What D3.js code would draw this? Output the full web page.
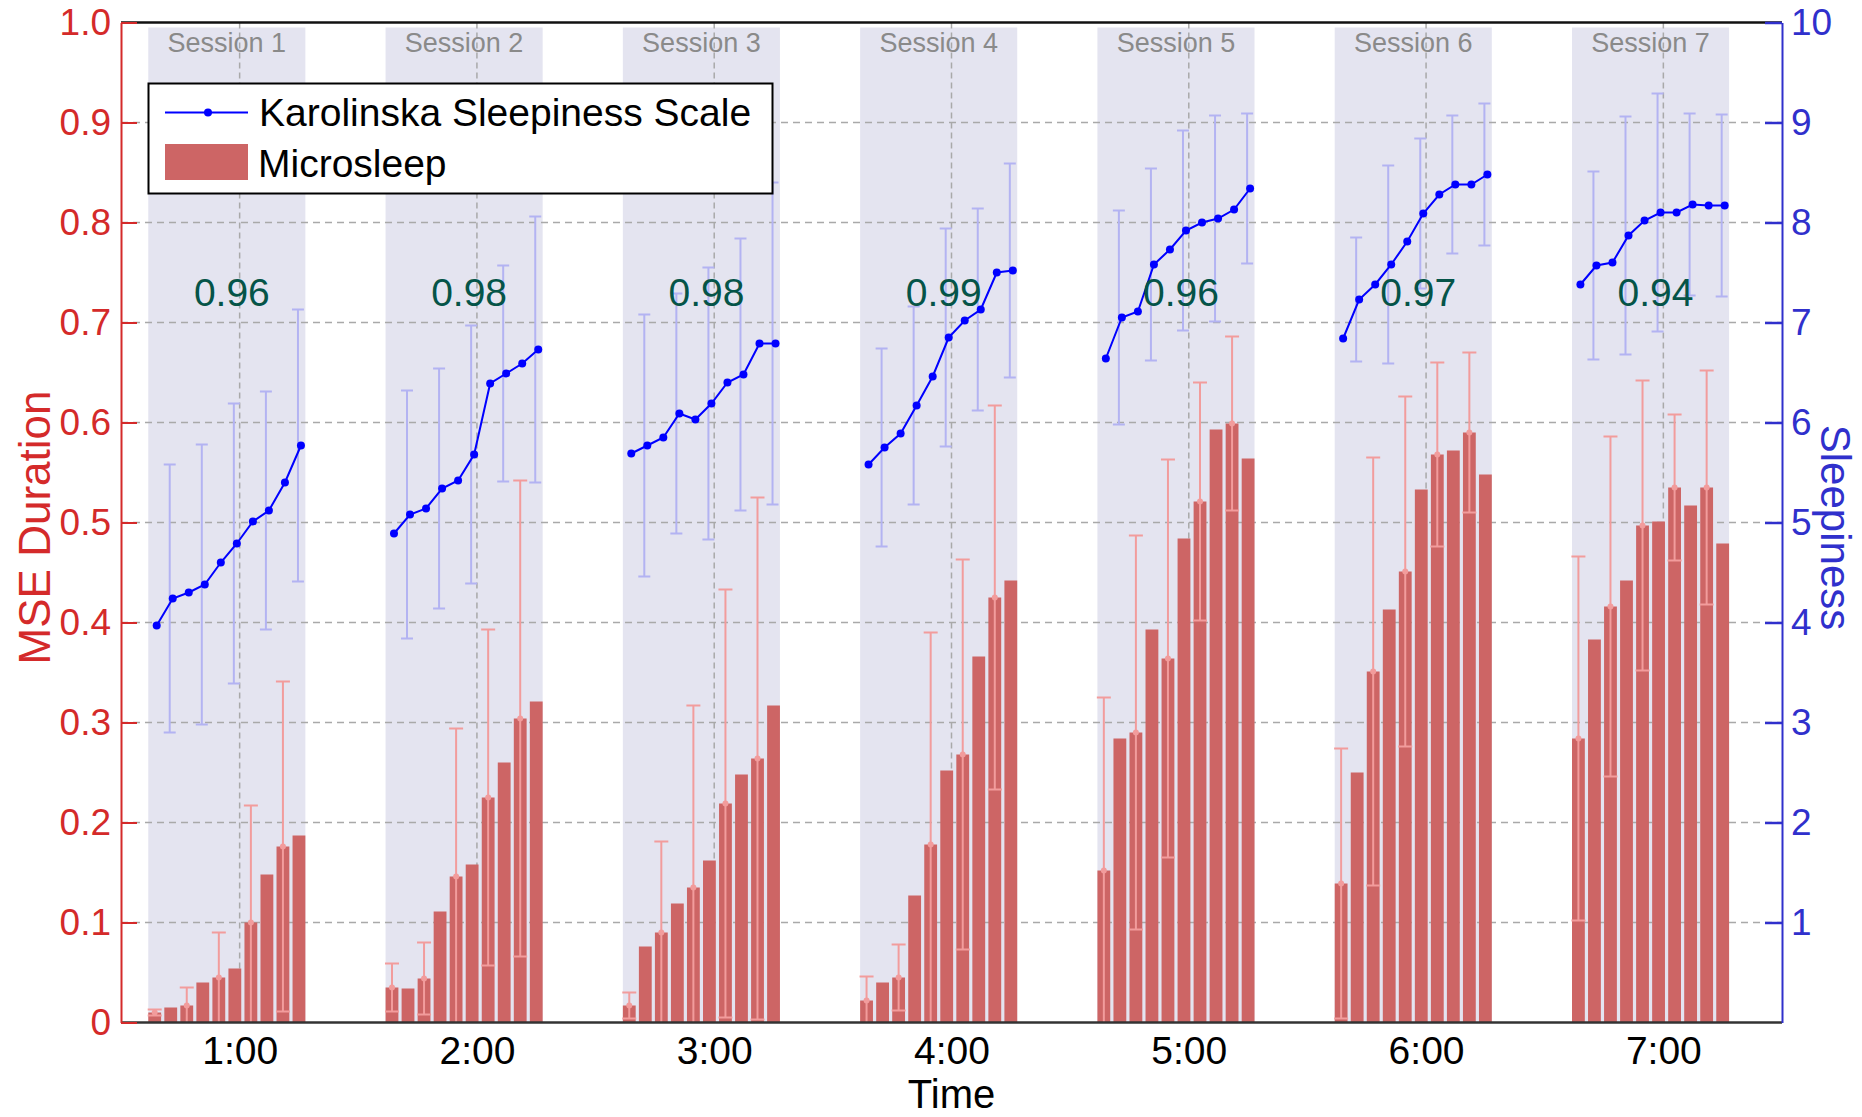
<!DOCTYPE html>
<html><head><meta charset="utf-8">
<script src="https://cdn.jsdelivr.net/npm/d3@7"></script>
<style>body{margin:0;background:#fff;overflow:hidden}</style>
</head><body><svg id="chart" width="1862" height="1117"></svg>
<script>
// ---------- data ----------
const hours = [1, 2, 3, 4, 5, 6, 7];
const hourLabels = ["1:00", "2:00", "3:00", "4:00", "5:00", "6:00", "7:00"];
const sessionLabels = ["Session 1", "Session 2", "Session 3", "Session 4", "Session 5", "Session 6", "Session 7"];
const correlations = ["0.96", "0.98", "0.98", "0.99", "0.96", "0.97", "0.94"];
const leftTicks = [0, 0.1, 0.2, 0.3, 0.4, 0.5, 0.6, 0.7, 0.8, 0.9, 1.0];
const leftTickLabels = ["0", "0.1", "0.2", "0.3", "0.4", "0.5", "0.6", "0.7", "0.8", "0.9", "1.0"];
const rightTicks = [1, 2, 3, 4, 5, 6, 7, 8, 9, 10];

// Microsleep (MSE duration) per session, 10 intervals each
const mseDuration = [
  [0.010, 0.015, 0.017, 0.040, 0.045, 0.054, 0.100, 0.148, 0.176, 0.187],
  [0.035, 0.034, 0.044, 0.111, 0.146, 0.158, 0.225, 0.260, 0.304, 0.321],
  [0.017, 0.076, 0.090, 0.119, 0.135, 0.162, 0.219, 0.248, 0.264, 0.317],
  [0.022, 0.040, 0.045, 0.127, 0.178, 0.252, 0.268, 0.366, 0.425, 0.442],
  [0.152, 0.284, 0.290, 0.393, 0.364, 0.484, 0.521, 0.593, 0.599, 0.564],
  [0.139, 0.250, 0.351, 0.413, 0.451, 0.533, 0.568, 0.572, 0.590, 0.548],
  [0.284, 0.383, 0.416, 0.442, 0.497, 0.501, 0.535, 0.517, 0.535, 0.479]
];
const mseError = [
  [0.003, null, 0.018, null, 0.045, null, 0.117, null, 0.165, null],
  [0.024, null, 0.036, null, 0.148, null, 0.168, null, 0.238, null],
  [0.013, null, 0.091, null, 0.182, null, 0.214, null, 0.261, null],
  [0.024, null, 0.033, null, 0.212, null, 0.195, null, 0.192, null],
  [0.173, null, 0.197, null, 0.199, null, 0.119, null, 0.087, null],
  [0.135, null, 0.214, null, 0.175, null, 0.092, null, 0.080, null],
  [0.182, null, 0.170, null, 0.145, null, 0.073, null, 0.117, null]
];
// Karolinska Sleepiness Scale per session
const kss = [
  [3.97, 4.24, 4.30, 4.38, 4.60, 4.79, 5.01, 5.12, 5.40, 5.77],
  [4.89, 5.08, 5.14, 5.34, 5.42, 5.68, 6.39, 6.49, 6.59, 6.73],
  [5.69, 5.77, 5.85, 6.09, 6.03, 6.19, 6.40, 6.48, 6.79, 6.79],
  [5.58, 5.75, 5.89, 6.17, 6.46, 6.85, 7.02, 7.13, 7.50, 7.52],
  [6.64, 7.05, 7.11, 7.58, 7.73, 7.92, 8.00, 8.04, 8.13, 8.34],
  [6.84, 7.23, 7.38, 7.58, 7.81, 8.09, 8.28, 8.38, 8.38, 8.48],
  [7.38, 7.57, 7.60, 7.87, 8.02, 8.10, 8.10, 8.18, 8.17, 8.17]
];
const kssError = [
  [null, 1.34, null, 1.40, null, 1.40, null, 1.19, null, 1.36],
  [null, 1.24, null, 1.20, null, 1.29, null, 1.08, null, 1.33],
  [null, 1.31, null, 1.20, null, 1.36, null, 1.36, null, 1.61],
  [null, 0.99, null, 0.99, null, 1.09, null, 1.01, null, 1.07],
  [null, 1.07, null, 0.96, null, 1.00, null, 1.03, null, 0.75],
  [null, 0.62, null, 0.99, null, 0.75, null, 0.69, null, 0.71],
  [null, 0.94, null, 1.19, null, 1.19, null, 0.91, null, 0.91]
];

// ---------- layout ----------
const svg = d3.select("#chart");
const L = 121, R = 1782, T = 22.5, B = 1022.5;
const x = d3.scaleLinear().domain([0.5, 7.5]).range([L, R]);
const yL = d3.scaleLinear().domain([0, 1]).range([B, T]);
const yR = d3.scaleLinear().domain([0, 10]).range([B, T]);
const bandLo = -0.385, bandHi = 0.277;
const inner = s => d3.scaleBand().domain(d3.range(10)).range([x(s + bandLo), x(s + bandHi)]).paddingInner(0.2).paddingOuter(0);

const FONT = "'Liberation Sans', Arial, Helvetica, sans-serif";
const RED = "#d42a2a", BLUE = "#3030cc";
const BAR = "#cd6565", REDERR = "#f29c9c", BLUEERR = "#b3b3f2", BANDC = "#e4e4f0";

svg.append("rect").attr("width", 1862).attr("height", 1117).attr("fill", "#fff");

const defs = svg.append("defs");
defs.append("clipPath").attr("id", "plotclip").append("rect")
  .attr("x", L).attr("y", T).attr("width", R - L).attr("height", B - T);

const plot = svg.append("g").attr("clip-path", "url(#plotclip)");

// session bands
plot.selectAll("rect.band").data(hours).join("rect")
  .attr("class", "band")
  .attr("x", s => x(s + bandLo)).attr("width", s => x(s + bandHi) - x(s + bandLo))
  .attr("y", T + 5).attr("height", B - T - 5)
  .attr("fill", BANDC);

// grid
plot.selectAll("line.hgrid").data(leftTicks.slice(1, -1)).join("line")
  .attr("x1", L).attr("x2", R).attr("y1", d => yL(d)).attr("y2", d => yL(d))
  .attr("stroke", "#a9a9a9").attr("stroke-width", 1.5).attr("stroke-dasharray", "7,5");
plot.selectAll("line.vgrid").data(hours).join("line")
  .attr("x1", d => x(d)).attr("x2", d => x(d)).attr("y1", T).attr("y2", B)
  .attr("stroke", "#a9a9a9").attr("stroke-width", 1.5).attr("stroke-dasharray", "6,4");

// bars + errors per session
hours.forEach((s, si) => {
  const xb = inner(s);
  const g = plot.append("g");
  const vals = mseDuration[si].map((v, j) => ({ j, v, e: mseError[si][j], k: kss[si][j], ke: kssError[si][j] }));
  g.selectAll("rect.bar").data(vals).join("rect")
    .attr("x", d => xb(d.j)).attr("width", xb.bandwidth())
    .attr("y", d => yL(d.v)).attr("height", d => yL(0) - yL(d.v))
    .attr("fill", BAR);
  const ev = vals.filter(d => d.e != null);
  const cx = d => xb(d.j) + xb.bandwidth() / 2;
  g.selectAll("line.rerr").data(ev).join("line")
    .attr("x1", cx).attr("x2", cx)
    .attr("y1", d => yL(d.v + d.e)).attr("y2", d => yL(Math.max(d.v - d.e, -0.01)))
    .attr("stroke", REDERR).attr("stroke-width", 2);
  g.selectAll("line.rcapT").data(ev).join("line")
    .attr("x1", d => cx(d) - 7).attr("x2", d => cx(d) + 7)
    .attr("y1", d => yL(d.v + d.e)).attr("y2", d => yL(d.v + d.e))
    .attr("stroke", REDERR).attr("stroke-width", 2);
  g.selectAll("line.rcapB").data(ev.filter(d => d.v - d.e > 0)).join("line")
    .attr("x1", d => cx(d) - 7).attr("x2", d => cx(d) + 7)
    .attr("y1", d => yL(d.v - d.e)).attr("y2", d => yL(d.v - d.e))
    .attr("stroke", REDERR).attr("stroke-width", 2);
  g.selectAll("circle.rdot").data(ev).join("circle")
    .attr("cx", cx).attr("cy", d => yL(d.v)).attr("r", 3)
    .attr("fill", REDERR);

  // blue error bars
  const kv = vals.filter(d => d.ke != null);
  const bx = d => cx(d) - 1;
  g.selectAll("line.berr").data(kv).join("line")
    .attr("x1", bx).attr("x2", bx)
    .attr("y1", d => yR(d.k + d.ke)).attr("y2", d => yR(d.k - d.ke))
    .attr("stroke", BLUEERR).attr("stroke-width", 2);
  ["T", "B"].forEach(side => {
    g.selectAll("line.bcap" + side).data(kv).join("line")
      .attr("x1", d => bx(d) - 6).attr("x2", d => bx(d) + 6)
      .attr("y1", d => yR(side === "T" ? d.k + d.ke : d.k - d.ke))
      .attr("y2", d => yR(side === "T" ? d.k + d.ke : d.k - d.ke))
      .attr("stroke", BLUEERR).attr("stroke-width", 2);
  });
  // KSS line
  const line = d3.line().x(d => cx(d) + 2).y(d => yR(d.k));
  g.append("path").datum(vals).attr("d", line)
    .attr("fill", "none").attr("stroke", "#0000ff").attr("stroke-width", 2);
  g.selectAll("circle.kdot").data(vals).join("circle")
    .attr("cx", d => cx(d) + 2).attr("cy", d => yR(d.k)).attr("r", 4)
    .attr("fill", "#0000ff");
});

// correlation labels
svg.selectAll("text.corr").data(hours).join("text")
  .attr("x", s => (x(s + bandLo) + x(s + bandHi)) / 2 + 5).attr("y", 306)
  .attr("text-anchor", "middle").attr("font-family", FONT).attr("font-size", 39)
  .attr("fill", "#055448").text((s, i) => correlations[i]);

// session labels
svg.selectAll("text.sess").data(hours).join("text")
  .attr("x", s => (x(s + bandLo) + x(s + bandHi)) / 2).attr("y", 52)
  .attr("text-anchor", "middle").attr("font-family", FONT).attr("font-size", 27)
  .attr("fill", "#8a8a8a").text((s, i) => sessionLabels[i]);

// frame: top & bottom
svg.append("line").attr("x1", L).attr("x2", R).attr("y1", T).attr("y2", T)
  .attr("stroke", "#111").attr("stroke-width", 2.5);
svg.append("line").attr("x1", L).attr("x2", R).attr("y1", B).attr("y2", B)
  .attr("stroke", "#333").attr("stroke-width", 2.5);

// left axis
const axL = d3.axisLeft(yL).tickValues(leftTicks).tickSizeInner(-16).tickSizeOuter(0)
  .tickPadding(10).tickFormat((d, i) => leftTickLabels[i]);
const gL = svg.append("g").attr("transform", `translate(${L},0)`).call(axL);
gL.select(".domain").attr("stroke", RED).attr("stroke-width", 2);
gL.selectAll(".tick line").attr("stroke", RED).attr("stroke-width", 2);
gL.selectAll(".tick text").attr("fill", RED).attr("font-family", FONT).attr("font-size", 37);

// right axis
const axR = d3.axisRight(yR).tickValues(rightTicks).tickSizeInner(-17).tickSizeOuter(0)
  .tickPadding(9).tickFormat(d3.format("d"));
const gR = svg.append("g").attr("transform", `translate(${R},0)`).call(axR);
gR.select(".domain").attr("stroke", BLUE).attr("stroke-width", 2);
gR.selectAll(".tick line").attr("stroke", BLUE).attr("stroke-width", 2.5);
gR.selectAll(".tick text").attr("fill", BLUE).attr("font-family", FONT).attr("font-size", 37);

// bottom axis (labels only)
const axB = d3.axisBottom(x).tickValues(hours).tickSize(0).tickPadding(14)
  .tickFormat((d, i) => hourLabels[i]);
const gB = svg.append("g").attr("transform", `translate(0,${B})`).call(axB);
gB.select(".domain").remove();
gB.selectAll(".tick text").attr("fill", "#000").attr("font-family", FONT).attr("font-size", 39);

// axis titles
svg.append("text").attr("transform", `translate(50,${(T + B) / 2 + 5}) rotate(-90)`)
  .attr("text-anchor", "middle").attr("font-family", FONT).attr("font-size", 44)
  .attr("fill", RED).text("MSE Duration");
svg.append("text").attr("transform", `translate(1821,${(T + B) / 2 + 5}) rotate(90)`)
  .attr("text-anchor", "middle").attr("font-family", FONT).attr("font-size", 42)
  .attr("fill", BLUE).text("Sleepiness");
svg.append("text").attr("x", (L + R) / 2).attr("y", 1108)
  .attr("text-anchor", "middle").attr("font-family", FONT).attr("font-size", 40)
  .attr("fill", "#000").text("Time");

// legend
const lg = svg.append("g");
lg.append("rect").attr("x", 148.5).attr("y", 83.5).attr("width", 624).attr("height", 110)
  .attr("fill", "#fff").attr("stroke", "#000").attr("stroke-width", 2);
lg.append("line").attr("x1", 165).attr("x2", 248).attr("y1", 112.5).attr("y2", 112.5)
  .attr("stroke", "#0000ff").attr("stroke-width", 2);
lg.append("circle").attr("cx", 208).attr("cy", 112.5).attr("r", 4).attr("fill", "#0000ff");
lg.append("text").attr("x", 259).attr("y", 126).attr("font-family", FONT).attr("font-size", 39)
  .attr("fill", "#000").text("Karolinska Sleepiness Scale");
lg.append("rect").attr("x", 165).attr("y", 144).attr("width", 83).attr("height", 36)
  .attr("fill", BAR);
lg.append("text").attr("x", 258).attr("y", 177).attr("font-family", FONT).attr("font-size", 39)
  .attr("fill", "#000").text("Microsleep");
</script>
</body></html>
